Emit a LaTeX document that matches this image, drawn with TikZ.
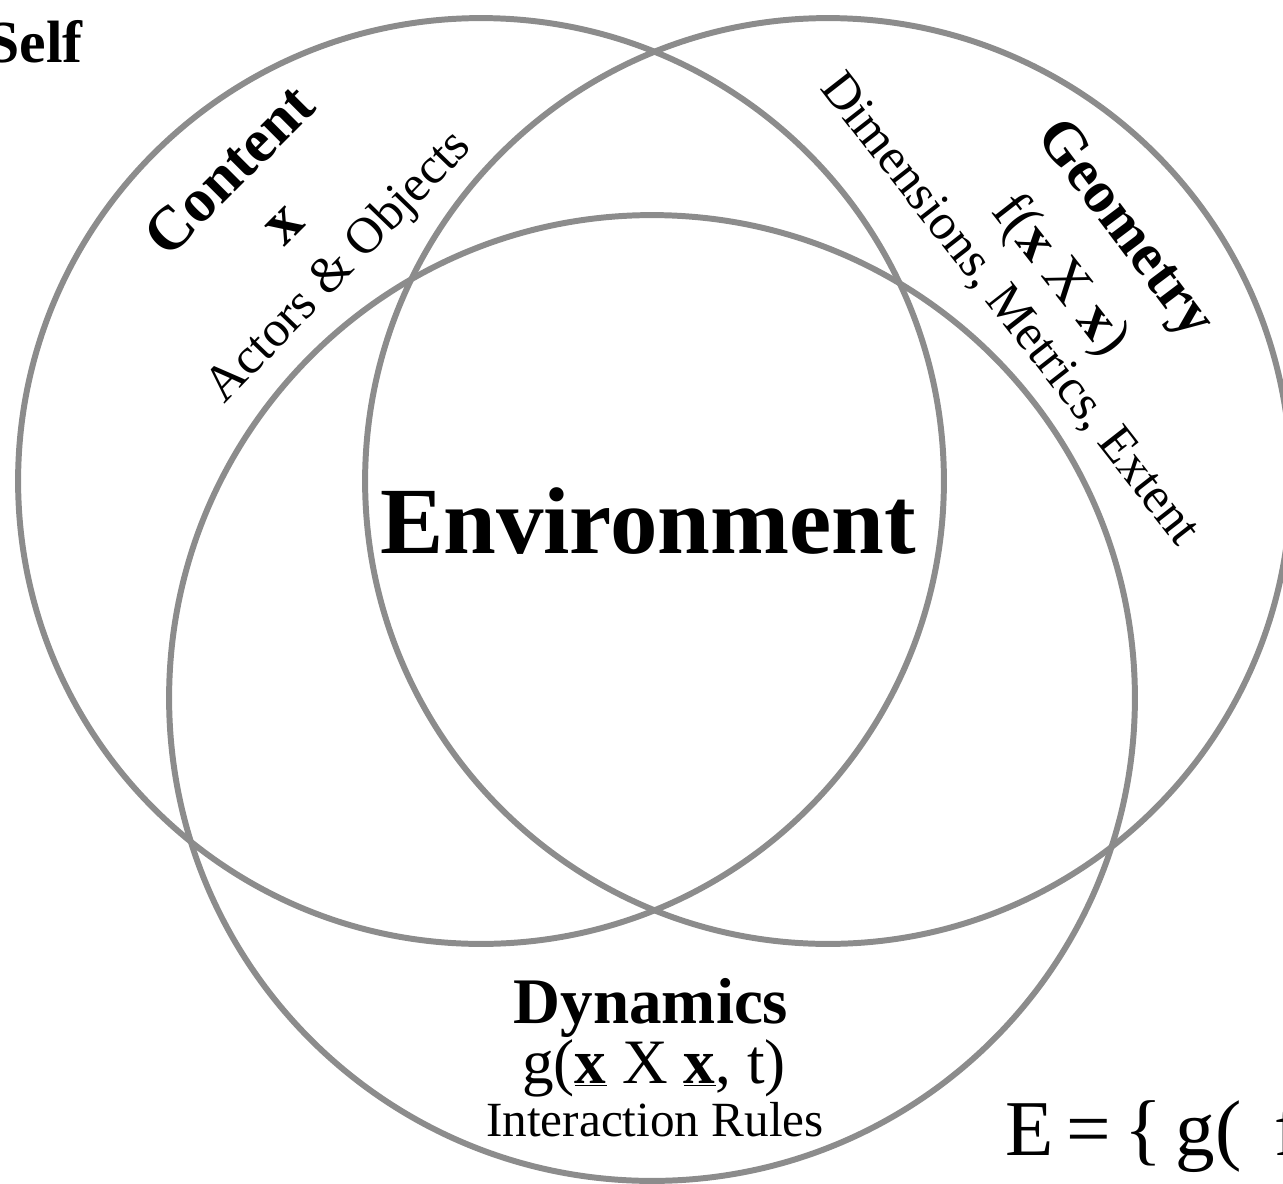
\documentclass[tikz,border=0pt]{standalone}
\usepackage{fontspec}
\setmainfont{Liberation Serif}
\definecolor{ringgray}{RGB}{140,140,140}
\begin{document}
\begin{tikzpicture}[x=0.02cm, y=-0.02cm,
    ring/.style={draw=ringgray, line width=3.4pt},
    lab/.style={font=\fontsize{#1}{#1}\selectfont, inner sep=0pt},
    head/.style={font=\fontsize{#1}{#1}\selectfont\bfseries, inner sep=0pt}]
  \useasboundingbox (0,0) rectangle (1283,1183);
  \clip (0,0) rectangle (1283,1183);
  \coordinate (content) at (481,481);
  \coordinate (geometry) at (828,481);
  \coordinate (dynamics) at (652,698);
  \draw[ring] (content) circle [radius=9.26cm];
  \draw[ring] (geometry) circle [radius=9.26cm];
  \draw[ring] (dynamics) circle [radius=9.66cm];

  \node[head=34pt, anchor=base east] (self) at (83,62) {Self};
  \node[head=35pt, rotate=45] (ctitle) at (229,170) {Content};
  \node[head=36pt, rotate=45] (cvar) at (285,226) {x};
  \node[lab=29pt, rotate=46] (cdesc) at (340,268) {Actors \& Objects};
  \node[head=34pt, rotate=-53] (gtitle) at (1123,230) {Geometry};
  \node[lab=33pt, rotate=-52] (gvar) at (1059,276) {f(\textbf{x} X \textbf{x})};
  \node[lab=29pt, rotate=-52] (gdesc) at (1009,310) {Dimensions, Metrics, Extent};
  \node[head=54pt] (env) at (648,521) {Environment};
  \node[head=37pt, anchor=base] (dtitle) at (651,1023) {Dynamics};
  \node[lab=36pt, anchor=base] (dvar) at (654,1083) {g(\underline{\textbf{x}} X \underline{\textbf{x}}, t)};
  \node[lab=28pt, anchor=base] (ddesc) at (655,1136) {Interaction Rules};
  \node[lab=45pt, anchor=base west] (eqn) at (1005,1155) {E\,=\,\{\,g(\, f};
\end{tikzpicture}
\end{document}
